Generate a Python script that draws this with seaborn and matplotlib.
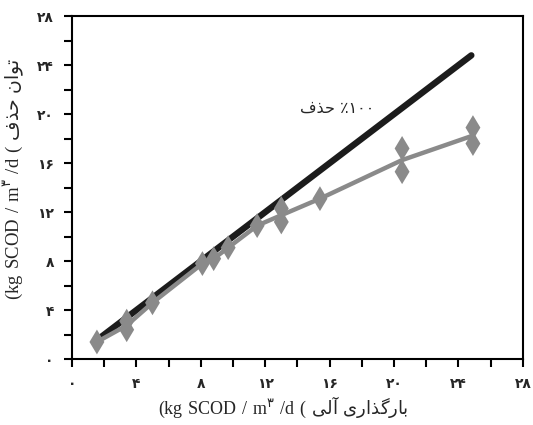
import matplotlib
matplotlib.use("Agg")
import matplotlib.pyplot as plt
import seaborn as sns
import pandas as pd

# ---- data ----
loading = [1.55, 3.4, 3.4, 5.0, 8.1, 8.8, 9.7, 11.5, 13.0, 13.0, 15.4, 20.5, 20.5, 24.9, 24.9]
removal = [1.4, 3.1, 2.4, 4.6, 7.8, 8.2, 9.1, 10.9, 12.3, 11.2, 13.1, 17.2, 15.3, 18.9, 17.6]
ideal_x = [1.8, 24.8]
ideal_y = [1.8, 24.8]
tick_vals = [0, 4, 8, 12, 16, 20, 24, 28]
tick_labels = ["۰", "۴", "۸", "۱۲", "۱۶", "۲۰", "۲۴", "۲۸"]

# visual-order Persian words (presentation forms)
w_hazf = "\uFED1\uFEAC\uFEA3"            # حذف
w_tavan = "\uFEE5\uFE8D\uFEEE\uFE97"      # توان
w_bargozari = "\uFBFC\uFEAD\uFE8D\uFEAC\uFB94\uFEAD\uFE8E\uFE91"  # بارگذاری
w_ali = "\uFBFD\uFEDF\uFE81"              # آلی
note_text = w_hazf + " ٪" + "۱۰۰"

sns.set_theme(style="ticks")
fam = ["Liberation Serif", "DejaVu Sans"]
plt.rcParams["font.family"] = fam
plt.rcParams["mathtext.fontset"] = "custom"
plt.rcParams["mathtext.rm"] = "Liberation Serif"
plt.rcParams["mathtext.sf"] = "DejaVu Sans"
plt.rcParams["mathtext.fallback"] = "stix"


def label_math(word_vis):
    return (r"$\mathrm{(kg\ SCOD\ /\ m}^{\mathsf{۳}}\mathrm{\ /d\ (\ }"
            r"\mathsf{" + word_vis + r"}$")


fig = plt.figure(figsize=(5.33, 4.25), dpi=100)
ax = fig.add_axes([0.135, 0.155, 0.846, 0.807])

df = pd.DataFrame({"x": loading, "y": removal})
di = pd.DataFrame({"x": ideal_x, "y": ideal_y})

sns.lineplot(data=di, x="x", y="y", color="#1c1c1c", lw=4.6, ax=ax,
             solid_capstyle="round")
sns.lineplot(data=df, x="x", y="y", estimator="mean", errorbar=None,
             color="#8a8a8a", lw=3.2, ax=ax)
sns.scatterplot(data=df, x="x", y="y", marker="d", s=160, color="#8a8a8a",
                edgecolor="none", ax=ax, zorder=3)

ax.set_xlim(0, 28)
ax.set_ylim(0, 28)
ax.set_xticks(tick_vals)
ax.set_yticks(tick_vals)
ax.set_xticks([2, 6, 10, 14, 18, 22, 26], minor=True)
ax.set_yticks([2, 6, 10, 14, 18, 22, 26], minor=True)
ax.set_xticklabels(tick_labels, fontfamily="DejaVu Sans", fontsize=10, fontweight="bold")
ax.set_yticklabels(tick_labels, fontfamily="DejaVu Sans", fontsize=10, fontweight="bold")
ax.tick_params(which="both", direction="out", length=6, width=1.5, color="black", pad=7)
for s in ax.spines.values():
    s.set_linewidth(1.5)
    s.set_color("black")
    s.set_visible(True)

ax.set_xlabel(label_math(w_ali + r"\ " + w_bargozari), fontsize=13)
ax.set_ylabel(label_math(w_hazf + r"\ " + w_tavan), fontsize=13.5)
ax.xaxis.set_label_coords(0.468, -0.105)
ax.yaxis.set_label_coords(-0.103, 0.525)

ax.text(16.5, 20.5, note_text, fontsize=11.5, family=["DejaVu Sans"],
        ha="center", va="center")

fig.savefig("out.png", dpi=100)
